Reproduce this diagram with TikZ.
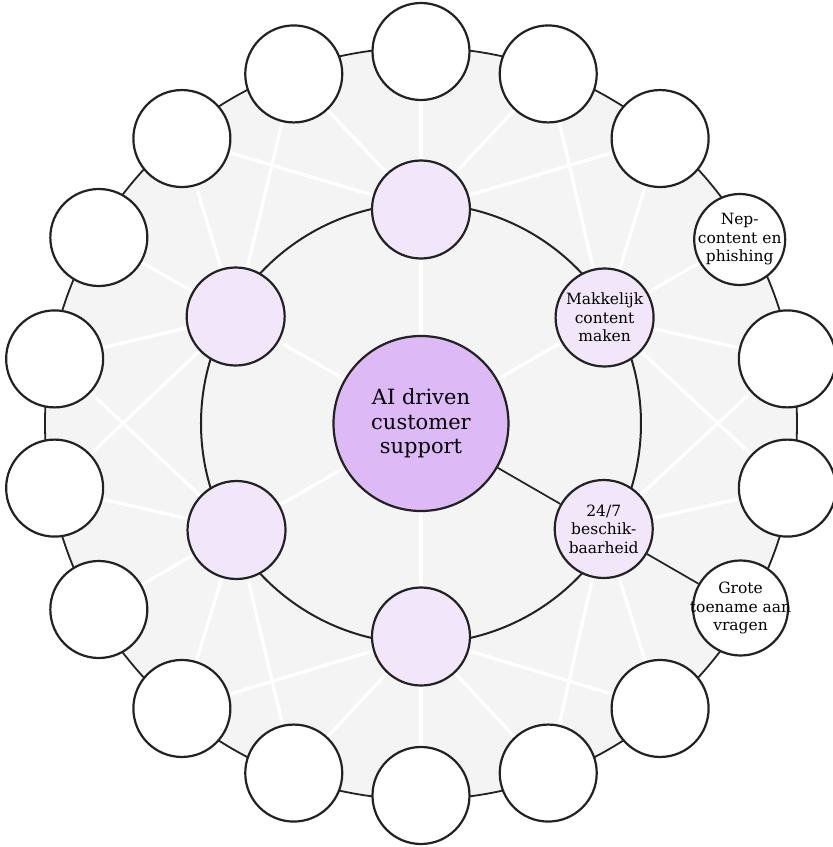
\documentclass[tikz,border=0pt]{standalone}
\usepackage{fontspec}
\setmainfont{DejaVu Serif}
\usetikzlibrary{backgrounds}

\definecolor{schijf}{HTML}{F4F4F4}
\definecolor{kernpaars}{HTML}{DDB9F5}
\definecolor{lichtpaars}{HTML}{F2E7FA}
\definecolor{rand}{HTML}{222222}

\begin{document}
\begin{tikzpicture}[x=1pt, y=1pt,
    every node/.style={font=\fontsize{15.5}{18.5}\selectfont, align=center},
    bol/.style={circle, draw=rand, line width=2.2pt, inner sep=-9pt},
    buiten/.style={bol, fill=white, minimum size=97pt},
    midden/.style={bol, fill=lichtpaars, minimum size=98pt},
    spaak/.style={white, line width=3.3pt},
    lijn/.style={rand, line width=1.7pt}]
    \useasboundingbox (-421,-423.5) rectangle (412,423.5);

    \node[bol, fill=kernpaars, minimum size=175pt, font=\fontsize{21}{24.5}\selectfont] (support) at (0,0) {AI driven\\customer\\support};

    \node[midden] (mid90) at (90:214pt) {};
    \node[midden] (makkelijk) at (30:212pt) {Makkelijk\\content\\maken};
    \node[midden] (beschikbaar) at (-30:211pt) {24/7\\beschik-\\baarheid};
    \node[midden] (mid270) at (-90:213pt) {};
    \node[midden] (mid210) at (-150:213pt) {};
    \node[midden] (mid150) at (150:214pt) {};

    \node[buiten] (out90) at (90:372pt) {};
    \node[buiten] (out70) at (70:372pt) {};
    \node[buiten] (out50) at (50:372pt) {};
    \node[buiten, minimum size=91pt] (nep) at (30:368pt) {Nep-\\content en\\phishing};
    \node[buiten] (out10) at (10:372pt) {};
    \node[buiten] (out350) at (-10:372pt) {};
    \node[buiten, minimum size=95pt] (toename) at (-30:369pt) {Grote\\toename aan\\vragen};
    \node[buiten] (out310) at (-50:372pt) {};
    \node[buiten] (out290) at (-70:372pt) {};
    \node[buiten] (out270) at (-90:372pt) {};
    \node[buiten] (out250) at (-110:372pt) {};
    \node[buiten] (out230) at (-130:372pt) {};
    \node[buiten] (out210) at (-150:372pt) {};
    \node[buiten] (out190) at (-170:372pt) {};
    \node[buiten] (out170) at (170:372pt) {};
    \node[buiten] (out150) at (150:372pt) {};
    \node[buiten] (out130) at (130:372pt) {};
    \node[buiten] (out110) at (110:372pt) {};

    \begin{pgfonlayer}{background}
    \draw[fill=schijf, draw=rand, line width=1.8pt] (support.center) circle (376pt);
    \path[spaak]
    (support) edge (mid90)
    (support) edge (makkelijk)
    (support) edge (mid270)
    (support) edge (mid210)
    (support) edge (mid150)
    (mid90) edge (out50)
    (mid90) edge (out70)
    (mid90) edge (out90)
    (mid90) edge (out110)
    (mid90) edge (out130)
    (makkelijk) edge (out70)
    (makkelijk) edge (out50)
    (makkelijk) edge (nep)
    (makkelijk) edge (out10)
    (makkelijk) edge (out350)
    (beschikbaar) edge (out10)
    (beschikbaar) edge (out350)
    (beschikbaar) edge (out310)
    (beschikbaar) edge (out290)
    (mid270) edge (out310)
    (mid270) edge (out290)
    (mid270) edge (out270)
    (mid270) edge (out250)
    (mid270) edge (out230)
    (mid210) edge (out250)
    (mid210) edge (out230)
    (mid210) edge (out210)
    (mid210) edge (out190)
    (mid210) edge (out170)
    (mid150) edge (out190)
    (mid150) edge (out170)
    (mid150) edge (out150)
    (mid150) edge (out130)
    (mid150) edge (out110);
    \draw[rand, line width=2pt] (support.center) circle (220pt);
    \end{pgfonlayer}

    \path[lijn]
    (support) edge (beschikbaar)
    (beschikbaar) edge (toename);
\end{tikzpicture}
\end{document}
